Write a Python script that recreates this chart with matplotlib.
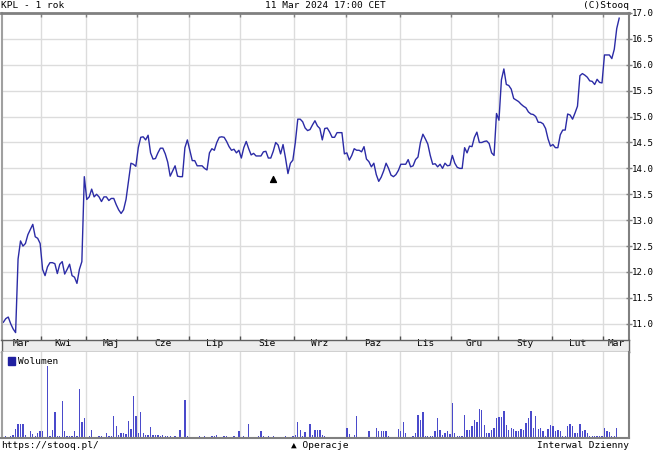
import matplotlib
matplotlib.use('Agg')
import matplotlib.pyplot as plt
import numpy as np
from matplotlib.patches import Patch

# miesiace i liczba sesji w kazdym
months = ['Mar', 'Kwi', 'Maj', 'Cze', 'Lip', 'Sie', 'Wrz', 'Paz', 'Lis', 'Gru', 'Sty', 'Lut', 'Mar']
sessions = [16, 18, 21, 21, 21, 22, 21, 22, 21, 19, 22, 21, 7]

# kurs zamkniecia KPL
close = [
    11.03, 11.10, 11.13, 11.00, 10.90, 10.83, 12.25, 12.60, 12.50, 12.55,
    12.72, 12.82, 12.92, 12.68, 12.65, 12.55, 12.05, 11.93, 12.10, 12.18,
    12.18, 12.16, 11.97, 12.15, 12.20, 11.96, 12.05, 12.15, 11.93, 11.90,
    11.78, 12.05, 12.20, 13.84, 13.40, 13.45, 13.60, 13.45, 13.50, 13.45,
    13.36, 13.45, 13.45, 13.38, 13.42, 13.42, 13.30, 13.20, 13.13, 13.20,
    13.40, 13.75, 14.10, 14.08, 14.04, 14.40, 14.60, 14.61, 14.55, 14.64,
    14.30, 14.18, 14.19, 14.30, 14.39, 14.39, 14.28, 14.12, 13.85, 13.95,
    14.05, 13.85, 13.84, 13.84, 14.40, 14.55, 14.35, 14.15, 14.15, 14.05,
    14.05, 14.05, 14.00, 13.97, 14.30, 14.38, 14.35, 14.50, 14.60, 14.61,
    14.60, 14.52, 14.42, 14.35, 14.37, 14.30, 14.35, 14.20, 14.40, 14.52,
    14.38, 14.26, 14.29, 14.24, 14.24, 14.24, 14.32, 14.33, 14.20, 14.20,
    14.33, 14.50, 14.45, 14.28, 14.46, 14.20, 13.90, 14.10, 14.16, 14.50,
    14.95, 14.95, 14.90, 14.78, 14.73, 14.75, 14.84, 14.92, 14.82, 14.77,
    14.55, 14.77, 14.78, 14.70, 14.60, 14.60, 14.69, 14.69, 14.69, 14.28,
    14.30, 14.16, 14.25, 14.38, 14.35, 14.35, 14.32, 14.42, 14.18, 14.13,
    14.03, 14.10, 13.88, 13.75, 13.83, 13.95, 14.10, 14.00, 13.87, 13.84,
    13.88, 13.96, 14.08, 14.08, 14.08, 14.17, 14.03, 14.05, 14.17, 14.22,
    14.50, 14.66, 14.57, 14.47, 14.25, 14.08, 14.09, 14.03, 14.08, 14.00,
    14.10, 14.05, 14.06, 14.25, 14.10, 14.02, 14.00, 14.00, 14.40, 14.30,
    14.43, 14.42, 14.60, 14.70, 14.50, 14.50, 14.52, 14.53, 14.48, 14.30,
    14.25, 15.06, 14.93, 15.71, 15.92, 15.62, 15.60, 15.53, 15.35, 15.32,
    15.29, 15.24, 15.20, 15.17, 15.09, 15.05, 15.04, 15.00, 14.89, 14.89,
    14.86, 14.77, 14.57, 14.43, 14.46, 14.40, 14.40, 14.65, 14.74, 14.74,
    15.05, 15.03, 14.95, 15.07, 15.20, 15.79, 15.83, 15.80, 15.76, 15.69,
    15.68, 15.62, 15.72, 15.66, 15.65, 16.19, 16.19, 16.19, 16.12, 16.30,
    16.70, 16.90,
]

# wolumen (jednostki wzgledne)
volume = [
    1.0, 1.7, 1.0, 2.3, 3.3, 9.0, 14.0, 14.0, 14.0, 3.3,
    1.0, 7.3, 4.0, 2.3, 5.0, 6.7, 6.7, 1.0, 72.0, 1.7,
    8.3, 25.7, 1.7, 2.3, 37.3, 6.7, 2.3, 1.7, 2.3, 7.3,
    1.7, 49.0, 15.7, 20.0, 1.0, 1.7, 8.3, 0.7, 0.7, 1.7,
    2.3, 1.0, 5.0, 1.7, 1.7, 22.3, 11.7, 3.3, 5.0, 5.0,
    4.3, 17.3, 9.0, 41.7, 22.3, 5.0, 25.7, 5.0, 3.3, 3.3,
    10.7, 3.3, 3.3, 3.3, 2.3, 3.3, 2.3, 2.3, 2.3, 0.7,
    2.3, 0.7, 8.3, 0.7, 37.7, 1.7, 1.0, 0.7, 0.7, 0.7,
    1.7, 0.7, 1.7, 0.7, 0.7, 1.7, 1.7, 3.3, 0.7, 0.7,
    2.3, 1.7, 1.0, 1.0, 1.7, 1.0, 7.3, 0.7, 2.3, 0.7,
    14.0, 0.7, 0.7, 0.7, 1.7, 6.7, 1.7, 1.0, 1.7, 1.0,
    1.7, 0.7, 0.7, 0.7, 1.0, 1.7, 0.7, 0.7, 1.7, 3.3,
    15.7, 8.3, 1.7, 5.7, 1.0, 14.0, 3.3, 8.3, 8.3, 8.3,
    3.3, 1.7, 1.0, 1.0, 1.0, 0.7, 0.7, 1.0, 0.7, 0.7,
    10.0, 4.0, 0.7, 3.3, 21.7, 0.7, 0.7, 0.7, 0.7, 6.7,
    0.7, 0.7, 10.0, 6.7, 7.3, 7.3, 7.3, 2.3, 0.7, 0.7,
    0.7, 9.0, 6.7, 15.7, 5.0, 0.7, 0.7, 1.7, 5.0, 22.7,
    18.3, 25.7, 2.3, 2.3, 2.3, 2.3, 6.7, 20.0, 8.3, 3.3,
    5.0, 6.7, 4.0, 35.0, 5.0, 2.3, 2.3, 1.7, 23.3, 8.3,
    8.3, 12.3, 18.3, 15.7, 29.0, 27.7, 13.3, 5.0, 5.0, 8.3,
    10.0, 20.0, 21.0, 21.0, 27.3, 13.3, 8.3, 10.0, 9.0, 7.3,
    6.7, 9.0, 8.3, 15.0, 20.0, 27.3, 10.0, 21.7, 9.0, 10.0,
    6.7, 2.3, 9.0, 13.3, 12.3, 7.3, 8.3, 6.7, 2.3, 2.3,
    11.7, 14.0, 11.7, 5.0, 5.0, 14.0, 6.7, 8.3, 5.0, 2.3,
    2.3, 1.7, 2.3, 2.3, 1.7, 10.0, 6.7, 5.7, 2.3, 1.7,
    10.0, 1.0,
]

# operacje (znacznik trojkata)
op_day = [110]
op_level = [13.8]

price_ticks = [11.0, 11.5, 12.0, 12.5, 13.0, 13.5, 14.0, 14.5, 15.0, 15.5, 16.0, 16.5, 17.0]

W, H = 655, 453
FONT = 'DejaVu Sans Mono'
FS = 6.8
FRAME = '#808080'
GRID = '#dcdcdc'
LINE = '#2b2ba6'
BARS = '#4a4acb'


def box(left, top, right, bottom):
    return [left / W, 1 - bottom / H, (right - left) / W, (bottom - top) / H]


fig = plt.figure(figsize=(W / 100, H / 100), dpi=100)
ax = fig.add_axes(box(1.5, 13, 629, 340))
band = fig.add_axes(box(1.5, 340, 629, 352))
axv = fig.add_axes(box(1.5, 352, 629, 438))

x = np.arange(len(close))
xlim = (-0.75, 255.0)
bounds = np.cumsum(sessions)[:-1] - 0.5
starts = np.concatenate([[xlim[0]], bounds])
ends = np.concatenate([bounds, [xlim[1]]])
centers = (starts + ends) / 2

# wykres kursu
for b in bounds:
    ax.axvline(b, color=GRID, lw=1, zorder=0)
for t in price_ticks[:-1]:
    ax.axhline(t, color=GRID, lw=1, zorder=0)
ax.plot(x, close, color=LINE, lw=1.0)
ax.scatter(op_day, op_level, marker='^', s=18, color='black', zorder=3)
ax.set_xlim(xlim)
ax.set_ylim(10.687, 17.0)
ax.yaxis.tick_right()
ax.set_yticks(price_ticks)
ax.set_yticklabels([f'{t:.1f}' for t in price_ticks], fontsize=6.6, family=FONT)
ax.tick_params(axis='y', direction='inout', length=4, width=1, color=FRAME, pad=0.3)
ax.set_xticks(bounds)
ax.tick_params(axis='x', top=True, bottom=False, labelbottom=False,
               direction='in', length=3, width=1, color=FRAME)
ax.spines['bottom'].set_visible(False)
ax.spines['top'].set_color(FRAME)
ax.spines['top'].set_linewidth(2)
ax.spines['right'].set_color(FRAME)
ax.spines['right'].set_linewidth(1.5)
ax.spines['left'].set_color('#a0a0a0')
ax.spines['left'].set_linewidth(1.5)

# pasek z nazwami miesiecy
band.set_facecolor('#ececec')
band.set_xlim(xlim)
band.set_ylim(0, 1)
band.set_yticks([])
band.set_xticks(bounds)
band.set_xticklabels([])
band.set_xticks(centers, minor=True)
band.set_xticklabels(months, minor=True, fontsize=FS, family=FONT)
band.tick_params(axis='x', which='major', top=True, bottom=True, direction='out',
                 length=3, width=1, color='#505050')
band.tick_params(axis='x', which='minor', length=0, pad=-9.5)
for s in band.spines.values():
    s.set_color('#606060')
    s.set_linewidth(1)

# wolumen
for b in bounds:
    axv.axvline(b, color=GRID, lw=1, zorder=0)
axv.bar(x, volume, width=0.55, color=BARS, linewidth=0)
axv.set_xlim(xlim)
axv.set_ylim(0, 86)
axv.set_xticks([])
axv.set_yticks([])
axv.spines['top'].set_visible(False)
axv.spines['bottom'].set_color(FRAME)
axv.spines['bottom'].set_linewidth(1.5)
axv.spines['right'].set_color(FRAME)
axv.spines['right'].set_linewidth(1.5)
axv.spines['left'].set_color('#a0a0a0')
axv.spines['left'].set_linewidth(1.5)
leg = axv.legend(handles=[Patch(color='#2020a0')], labels=['Wolumen'], loc='upper left',
                 bbox_to_anchor=(0.002, 1.01), frameon=False, handlelength=0.7,
                 handleheight=0.9, handletextpad=0.3, borderpad=0.1,
                 prop={'family': FONT, 'size': FS})

# napisy
fig.text(1 / W, 1 - 5 / H, 'KPL - 1 rok', fontsize=FS, family=FONT, va='center', ha='left')
fig.text(325 / W, 1 - 5 / H, '11 Mar 2024 17:00 CET', fontsize=FS, family=FONT, va='center', ha='center')
fig.text(629 / W, 1 - 5 / H, '(C)Stooq', fontsize=FS, family=FONT, va='center', ha='right')
fig.text(1 / W, 1 - 446 / H, 'https://stooq.pl/', fontsize=FS, family=FONT, va='center', ha='left')
fig.text(320 / W, 1 - 446 / H, '▲ Operacje', fontsize=FS, family=FONT, va='center', ha='center')
fig.text(629 / W, 1 - 446 / H, 'Interwal Dzienny', fontsize=FS, family=FONT, va='center', ha='right')

fig.savefig('out.png', dpi=100)
